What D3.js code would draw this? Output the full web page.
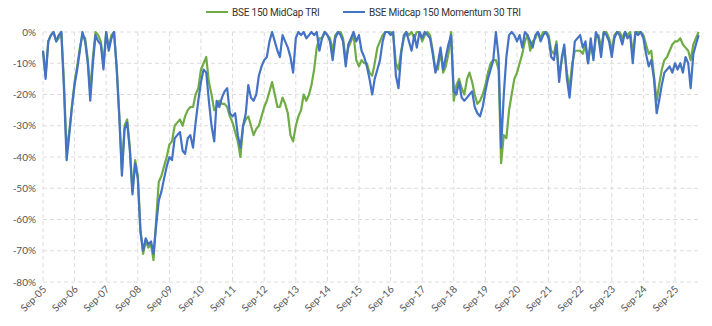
<!DOCTYPE html>
<html>
<head>
<meta charset="utf-8">
<script src="https://cdn.jsdelivr.net/npm/d3@7"></script>
<style>
  body { margin: 0; background: #fff; }
  svg { display: block; font-family: Lato, "Open Sans", sans-serif; }
  .grid line { stroke: #dcdcdc; stroke-dasharray: 4 3; }
  .ylab, .xlab { fill: #555; font-size: 10px; }
  .legend text { fill: #333; font-size: 10px; letter-spacing: -0.2px; font-family: Roboto, sans-serif; }
</style>
</head>
<body>
<svg id="chart" width="712" height="326"></svg>
<script>
// monthly drawdown (%) from Sep-05, one row per Sep..Aug year
const momentum = [
  -6, -15, -3, -1, 0, -3, -1, 0, -18, -41, -33, -24,
  -17, -12, -6, 0, -3, -10, -22, -10, -1, -3, -4, -12,
  0, -6, -2, 0, -12, -28, -46, -31, -29, -38, -52, -42,
  -47, -64, -70, -66, -68, -67, -71, -62, -54, -51, -47, -43,
  -40, -41, -34, -33, -32, -38, -39, -34, -33, -37, -29, -22,
  -16, -12, -13, -22, -30, -35, -22, -24, -21, -19, -18, -26,
  -27, -26, -33, -37, -30, -26, -17, -21, -22, -20, -14, -11,
  -9, -8, -3, 0, -3, -6, -8, -1, -3, -5, -8, -13,
  -2, 0, -1, 0, -2, -1, 0, -1, 0, -6, -2, 0,
  -1, -3, -9, -2, 0, -1, -3, -11, -4, -2, 0, -3,
  -1, -6, -8, -11, -15, -20, -15, -12, -9, -3, 0, 0,
  -1, 0, -14, -18, -7, -1, 0, -3, -6, -1, -5, 0,
  -2, 0, -1, -2, -7, -13, -10, -5, -12, -8, -4, -1,
  -19, -20, -16, -21, -22, -21, -20, -19, -24, -26, -27, -24,
  -19, -15, -12, -9, 0, -8, -37, -20, -8, -1, 0, -1,
  -3, -1, -5, 0, -1, -3, -5, -1, 0, -3, -1, 0,
  -2, -8, -9, -4, -16, -8, -4, -15, -21, -12, -3, -2,
  -1, -5, -3, -10, -2, -9, 0, -2, -8, 0, -1, -3,
  -8, -2, 0, -1, -4, 0, -2, -1, -10, 0, -1, 0,
  -2, -7, -11, -9, -15, -26, -22, -17, -13, -12, -11, -13,
  -10, -12, -10, -13, -8, -10, -18, -7, -4, -1
];

const midcap = [
  -6, -14, -3, -1, 0, -3, -2, 0, -16, -38, -32, -24,
  -16, -11, -5, -1, -2, -9, -19, -8, 0, -1, -3, -10,
  0, -5, -1, 0, -11, -27, -44, -30, -28, -37, -51, -41,
  -46, -63, -71, -67, -69, -68, -73, -60, -48, -46, -43, -40,
  -36, -35, -30, -29, -28, -30, -27, -25, -24, -24, -20, -18,
  -12, -10, -8, -16, -20, -25, -24, -22, -23, -23, -24, -27,
  -29, -32, -35, -40, -30, -28, -27, -30, -33, -31, -30, -27,
  -24, -22, -19, -16, -20, -24, -24, -21, -23, -26, -33, -35,
  -30, -27, -25, -20, -22, -20, -17, -12, -5, -2, -2, 0,
  -1, -2, -6, -1, 0, 0, -2, -9, -5, -3, -1, -9,
  -11, -9, -10, -10, -13, -14, -10, -5, -3, -1, 0, 0,
  0, -1, -10, -12, -6, -2, 0, -1, 0, -2, 0, 0,
  -3, -1, 0, -1, -6, -12, -12, -6, -13, -11, -7, 0,
  -22, -17, -15, -18, -20, -15, -13, -16, -20, -23, -22, -20,
  -17, -13, -10, -9, -9, -12, -42, -33, -34, -25, -20, -15,
  -13, -10, -7, -3, -1, -6, -3, -2, 0, -2, 0, 0,
  -1, -6, -7, -3, -14, -9, -5, -13, -18, -10, -6, -6,
  -6, -7, -4, -10, -4, -8, -2, -1, -5, 0, 0, -2,
  -6, -1, 0, 0, -2, 0, -1, 0, -7, 0, 0, 0,
  -1, -4, -7, -6, -14, -22, -17, -12, -9, -8, -6, -4,
  -3, -3, -2, -4, -5, -6, -9, -4, -2, 0
];

const months = d3.timeMonth.range(new Date(2005, 8, 1), new Date(2026, 6, 1));
const tickYears = d3.range(2005, 2026);
const yTicks = d3.range(-80, 1, 10);

const seriesNames = ["BSE 150 MidCap TRI", "BSE Midcap 150 Momentum 30 TRI"];
const colors = ["#6fac46", "#4472c4"];

const svg = d3.select("#chart");
const plotLeft = 43, plotRight = 698, plotTop = 32, plotBottom = 282;

const x = d3.scaleTime()
  .domain([new Date(2005, 8, 1), new Date(2025, 8, 1)])
  .range([plotLeft, 675]);
const y = d3.scaleLinear().domain([-80, 0]).range([plotBottom, plotTop]);

const grid = svg.append("g").attr("class", "grid");
grid.selectAll("line.h")
  .data(yTicks)
  .join("line")
  .attr("class", "h")
  .attr("x1", plotLeft).attr("x2", plotRight)
  .attr("y1", (d) => y(d)).attr("y2", (d) => y(d));

const xTicks = tickYears.map((yr) => new Date(yr, 8, 1));
grid.selectAll("line.v")
  .data(xTicks)
  .join("line")
  .attr("class", "v")
  .attr("x1", (d) => x(d)).attr("x2", (d) => x(d))
  .attr("y1", plotTop).attr("y2", plotBottom);

svg.append("g").selectAll("text")
  .data(yTicks)
  .join("text")
  .attr("class", "ylab")
  .attr("x", 36)
  .attr("y", (d) => y(d))
  .attr("dy", "0.35em")
  .attr("text-anchor", "end")
  .text((d) => d + "%");

const fmt = d3.timeFormat("%b-%y");
svg.append("g").selectAll("text")
  .data(xTicks)
  .join("text")
  .attr("class", "xlab")
  .attr("text-anchor", "end")
  .attr("transform", (d) => `translate(${x(d) + 4},${plotBottom + 8}) rotate(-45)`)
  .text((d) => fmt(d));

const line = d3.line()
  .x((d, i) => x(months[i]))
  .y((d) => y(d));

[midcap, momentum].forEach((vals, i) => {
  svg.append("path")
    .datum(vals)
    .attr("fill", "none")
    .attr("stroke", colors[i])
    .attr("stroke-width", 2.2)
    .attr("stroke-linejoin", "round")
    .attr("d", line);
});

// legend
const legendX = [206, 343];
const legend = svg.append("g").attr("class", "legend");
seriesNames.forEach((name, i) => {
  const g = legend.append("g").attr("transform", `translate(${legendX[i]},12)`);
  g.append("line")
    .attr("x1", 0).attr("x2", 22)
    .attr("stroke", colors[i]).attr("stroke-width", 2);
  g.append("text").attr("x", 26).attr("dy", "0.35em").text(name);
});
</script>
</body>
</html>
